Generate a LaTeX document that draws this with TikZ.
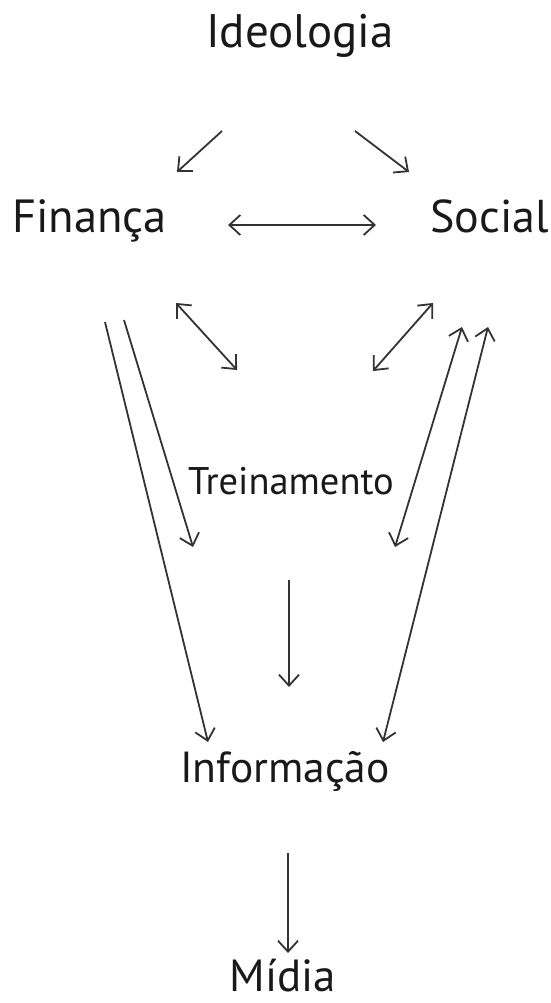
\documentclass[tikz,border=0pt]{standalone}
\usepackage{fontspec}
\setmainfont{PT Sans}
\usetikzlibrary{arrows.meta}
\begin{document}
\begin{tikzpicture}[x=1pt,y=-1pt,
  lbl/.style={anchor=base,inner sep=0pt,text=black!90},
  tip/.tip={Straight Barb[length=11pt,width=20pt,line width=1.8pt]},
  conn/.style={line width=1.8pt,draw=black!80,-tip},
  dconn/.style={line width=1.8pt,draw=black!80,tip-tip}]
\useasboundingbox[fill=white] (0,0) rectangle (550,1003);
% labels
\node[lbl,font=\fontsize{47}{50}\selectfont] (ideo) at (300,48) {Ideologia};
\node[lbl,font=\fontsize{46.5}{50}\selectfont] (fin) at (89.5,232) {Finança};
\node[lbl,font=\fontsize{46}{50}\selectfont] (soc) at (489.5,232) {Social};
\node[lbl,font=\fontsize{38.5}{40}\selectfont] (trei) at (291,494) {Treinamento};
\node[lbl,font=\fontsize{43.5}{45}\selectfont] (info) at (285,782) {Informação};
\node[lbl,font=\fontsize{45}{48}\selectfont] (midia) at (283,991) {Mídia};
% arrow end points
\coordinate (a1s) at (222,131); \coordinate (a1e) at (177,172);
\coordinate (a2s) at (355,131); \coordinate (a2e) at (409,172);
\coordinate (a3s) at (228,225); \coordinate (a3e) at (376,225);
\coordinate (a4s) at (176,303); \coordinate (a4e) at (237,370);
\coordinate (a5s) at (433,303); \coordinate (a5e) at (373,371);
\coordinate (a6s) at (124,320); \coordinate (a6e) at (193,547);
\coordinate (a7s) at (105,322); \coordinate (a7e) at (208,742);
\coordinate (a8s) at (462,327); \coordinate (a8e) at (395,547);
\coordinate (a9s) at (488,327); \coordinate (a9e) at (383,742);
\coordinate (a10s) at (289,580); \coordinate (a10e) at (289,687);
\coordinate (a11s) at (288,853); \coordinate (a11e) at (288,953);
% connectors
\draw[conn] (a1s) -- (a1e);
\draw[conn] (a2s) -- (a2e);
\draw[dconn] (a3s) -- (a3e);
\draw[dconn] (a4s) -- (a4e);
\draw[dconn] (a5s) -- (a5e);
\draw[conn] (a6s) -- (a6e);
\draw[conn] (a7s) -- (a7e);
\draw[dconn] (a8s) -- (a8e);
\draw[dconn] (a9s) -- (a9e);
\draw[conn] (a10s) -- (a10e);
\draw[conn] (a11s) -- (a11e);
\end{tikzpicture}
\end{document}
